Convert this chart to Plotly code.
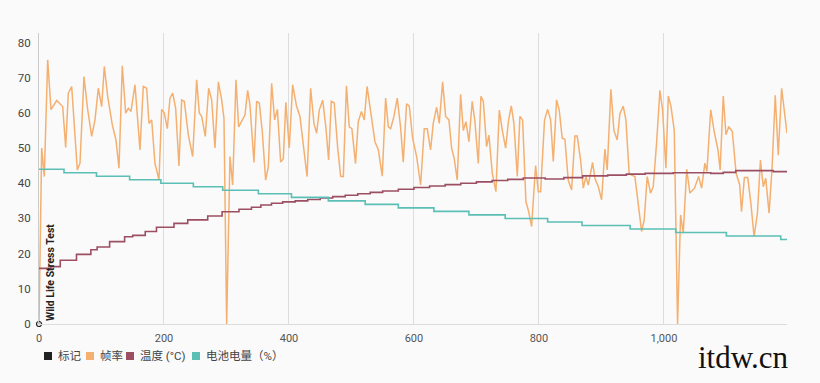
import plotly.graph_objects as go

# ---------------- data ----------------
fps_x = [0, 4.3, 8.5, 13.9, 19.2, 23.5, 28.3, 37.9, 42.7, 46.9, 52.3, 61.3, 65.6, 72, 77.9, 84.3, 89.6, 94.9,
         100.3, 104.5, 109.9, 117.3, 123.2, 128, 133.3, 138.7, 142.9, 147.2, 153.6, 161.6, 166.9, 172.3, 176,
         180.3, 185.6, 192, 196.3, 200.5, 205.3, 209.6, 213.9, 218.7, 224, 228.3, 232.5, 238.9, 245.9, 252.3,
         256.5, 260.3, 266.1, 271.5, 276.3, 281.6, 287, 292.3, 296, 300.3, 305.6, 309.9, 315.2, 319.5, 324.8,
         329.6, 333.9, 337.6, 344, 348.3, 352.5, 357.3, 362.7, 367, 372.3, 377, 381.5, 386.7, 391, 395, 400.5,
         405.9, 412, 417.6, 429, 434.7, 440, 444.3, 448.5, 454, 459, 463.5, 467.7, 472.5, 477.8, 482.7, 487,
         492, 496.5, 500.7, 506.5, 510.9, 516, 520.5, 525, 529.6, 537.6, 543, 549.3, 554.7, 559, 562.7, 568,
         573.3, 578.6, 582.9, 588.2, 592.5, 597.9, 604.3, 610.7, 616.5, 621.3, 626.6, 630.9, 636.3, 640.5,
         645.9, 650.7, 656, 660.3, 664.5, 669.3, 674.7, 679, 683.2, 688, 693.3, 697.6, 703, 707.2, 711, 716.3,
         720, 725.4, 731.2, 736.6, 741.4, 746.7, 751.5, 755.8, 760, 765.4, 769.6, 773.9, 779.2, 783.5, 788.3,
         794.7, 799, 802.7, 809, 814, 818.7, 823, 828.3, 832.5, 837.3, 841.6, 846.9, 852.3, 857.6, 861.3,
         866.7, 871, 875.2, 879, 881.6, 885.9, 889.6, 894.9, 900.3, 905.6, 909.3, 915.2, 920, 925.3, 929.6,
         934.9, 939.2, 944.5, 953.6, 959, 964.3, 968.5, 973.3, 978.7, 983, 988.3, 993.6, 997.9, 1003.2, 1007,
         1011.2, 1016.6, 1019.2, 1021.9, 1026.7, 1031, 1036.5, 1041.6, 1049, 1055.5, 1060.3, 1065.6, 1068.8,
         1074.9, 1080.5, 1086.5, 1090, 1095, 1099.3, 1104, 1109.5, 1115.5, 1121.3, 1124.2, 1128.8, 1134.2,
         1139.2, 1144.3, 1149.7, 1154.5, 1159, 1163, 1168.3, 1173.2, 1178.2, 1183, 1188.4, 1197]
fps_y = [0, 50, 41.9, 75.1, 60.9, 62, 63.5, 61.8, 50.2, 65.6, 67.5, 43.8, 45.7, 70.3, 60.9, 53.3, 58, 67,
         61.8, 73.2, 64.7, 56.6, 52.3, 44.3, 73.4, 59.9, 61.3, 60.4, 68, 49.5, 67.5, 67, 57,
         58, 45.6, 41, 61, 60, 55.5, 64.2, 65.6, 61.3, 44.9, 63.7, 63.3, 53.8, 47.6, 69.4,
         60, 59, 53.3, 67, 63.7, 50, 68.8, 63.7, 58.5, 0, 47.6, 39.5, 69.4, 56, 58,
         59.4, 66.4, 62.3, 45.9, 63.3, 62.8, 54.7, 40.9, 44.7, 68.4, 58, 61, 46, 47, 63, 50,
         68, 62, 59, 41.9, 67, 57, 54.2, 60.8, 63.6, 56, 46.6, 63.3, 62.8, 50.4, 42, 41.9,
         67.7, 56, 55.5, 45.6, 57.5, 60.4, 58, 67.5, 62, 51.8, 49.5, 42, 64.2, 56, 55.5, 59,
         64.2, 56, 46, 62.6, 62, 52.8, 47.6, 39.5, 55.5, 55.5, 49.5, 57, 61.6, 57,
         68.8, 59, 58, 50, 47, 40.9, 65.3, 55, 57.5, 51.8, 63.3, 57.5, 45.6, 64.7, 63.3, 50.4,
         53.7, 42.8, 37.6, 60.8, 55, 50, 58, 62, 57, 41.9, 59, 58, 34.8, 32, 27.7,
         45, 37.6, 37.6, 58, 61, 58, 46.2, 63.7, 60.8, 52.8, 52.5, 40.9, 38.1, 53.4, 53.4,
         46.6, 38.6, 41.9, 39.5, 41.9, 45.9, 41.4, 39.1, 35.3, 49.7, 43.8, 66.7, 55, 52.3, 59.8,
         61.9, 58, 42.6, 41.9, 33.4, 26.3, 29.6, 41.9, 37.2, 39.1, 51.4, 66.4, 60.8, 44.3, 64.8,
         62, 55, 29.6, 0, 31, 25.8, 44, 37.2, 38.6, 41.9, 38.6, 45.7, 43.3,
         60.9, 54.7, 49.5, 43.8, 64.8, 53.8, 56.1, 54.7, 42.9, 39.5, 31.9, 41.6, 41.6,
         34.3, 24.8, 31.5, 46.6, 39, 41.4, 31.5, 44.7, 65, 48, 67, 54.2]

temp_x = [0, 19, 34, 60, 83, 93, 113, 137, 150, 170, 188, 216, 238, 270, 293, 320, 340, 355, 372, 390,
          410, 430, 450, 470, 490, 510, 530, 550, 575, 600, 625, 650, 675, 700, 725, 750, 775, 810, 840, 870,
          910, 940, 970, 1015, 1075, 1095, 1115, 1175, 1197]
temp_y = [15.8, 16.3, 18.1, 19.8, 21.1, 21.9, 23.4, 24.8, 25.2, 26.3, 27.5, 28.6, 29.6, 30.7, 31.9, 32.6,
          33.2, 33.8, 34.3, 34.7, 35.0, 35.4, 35.8, 36.2, 36.6, 37.0, 37.4, 37.8, 38.3, 38.8, 39.2, 39.6,
          40.0, 40.4, 40.8, 41.1, 41.5, 41.2, 41.6, 42.1, 42.3, 42.6, 42.8, 43.0, 42.8, 43.1, 43.6, 43.3, 43.3]

batt_x = [0, 40, 92, 145, 195, 247, 294, 351, 404, 463, 522, 575, 632, 688, 746, 814, 869, 946, 1019, 1100, 1187, 1197]
batt_y = [44, 43, 42, 41, 40, 39, 38, 37, 36, 35, 34, 33, 32, 31, 30, 29, 28, 27, 26, 25, 24, 24]

marker_x = [0]
marker_y = [0]
marker_label = "Wild Life Stress Test"

x_ticks = [0, 200, 400, 600, 800, 1000]

names = ["标记", "帧率", "温度 (°C)", "电池电量（%）"]
colors = ["#222222", "#F4B070", "#9C4F63", "#5CBFB6"]

# ---------------- figure ----------------
W, H = 820, 383
ML, MR, MT, MB = 39, 33, 33, 59
PW, PH = W - ML - MR, H - MT - MB


def px_to_paper_x(px):
    return (px - ML) / PW


def py_to_paper_y(py):
    return (H - MB - py) / PH


fig = go.Figure()

fig.add_trace(go.Scatter(x=fps_x, y=fps_y, mode="lines", name=names[1], showlegend=False,
                         line=dict(color=colors[1], width=1.5)))
fig.add_trace(go.Scatter(x=temp_x, y=temp_y, mode="lines", name=names[2], showlegend=False,
                         line=dict(color=colors[2], width=1.6, shape="hv")))
fig.add_trace(go.Scatter(x=batt_x, y=batt_y, mode="lines", name=names[3], showlegend=False,
                         line=dict(color=colors[3], width=1.6, shape="hv")))
fig.add_trace(go.Scatter(x=marker_x, y=marker_y, mode="markers", name=names[0], showlegend=False,
                         marker=dict(symbol="circle-open", size=5, color=colors[0], line=dict(width=1.2)),
                         cliponaxis=False))

# compact legend (square swatch + label) below the plot
legend_sw_px = [44, 86, 126, 192]
legend_cy = 356
for n, c, sx in zip(names, colors, legend_sw_px):
    fig.add_shape(type="rect", xref="paper", yref="paper",
                  x0=px_to_paper_x(sx), x1=px_to_paper_x(sx + 8),
                  y0=py_to_paper_y(legend_cy + 4), y1=py_to_paper_y(legend_cy - 4),
                  fillcolor=c, line=dict(width=0))
    fig.add_annotation(x=px_to_paper_x(sx + 12), y=py_to_paper_y(legend_cy), xref="paper", yref="paper",
                       text=n, showarrow=False, xanchor="left", yanchor="middle",
                       font=dict(size=11.5, color="#444444"))

fig.add_annotation(x=marker_x[0], y=marker_y[0], xref="x", yref="y", text="<b>" + marker_label + "</b>",
                   textangle=-90, xanchor="left", yanchor="bottom", xshift=3, yshift=1, showarrow=False,
                   font=dict(family="Roboto, Arial", size=10.5, color="#222222"))

fig.add_annotation(x=px_to_paper_x(696), y=py_to_paper_y(357), xref="paper", yref="paper", text="itdw.cn",
                   showarrow=False, xanchor="left", yanchor="middle",
                   font=dict(family="Liberation Serif, DejaVu Serif, serif", size=31, color="#111111"))

fig.update_layout(
    width=W, height=H,
    margin=dict(l=ML, r=MR, t=MT, b=MB),
    paper_bgcolor="#fafafa", plot_bgcolor="#fafafa",
    font=dict(family="Roboto, Noto Sans CJK SC, sans-serif", size=11, color="#444444"),
    showlegend=False,
    xaxis=dict(range=[0, 1197], tickvals=x_ticks, tickformat=",d", showgrid=True, gridcolor="#dddddd",
               gridwidth=1, zeroline=False, showline=True, linecolor="#dddddd", linewidth=1,
               ticks="", ticklabelstandoff=4, automargin=False, tickfont=dict(size=11, color="#555555")),
    yaxis=dict(range=[0, 82.7], dtick=10, showgrid=False, zeroline=False, showline=True,
               linecolor="#cccccc", linewidth=1, ticks="", ticklabelstandoff=5, automargin=False,
               tickfont=dict(size=11.5, color="#444444")),
)

fig.write_html("out.html", config={"displayModeBar": False},
               post_script="document.body.style.margin='0';document.body.style.background='#fafafa';")
